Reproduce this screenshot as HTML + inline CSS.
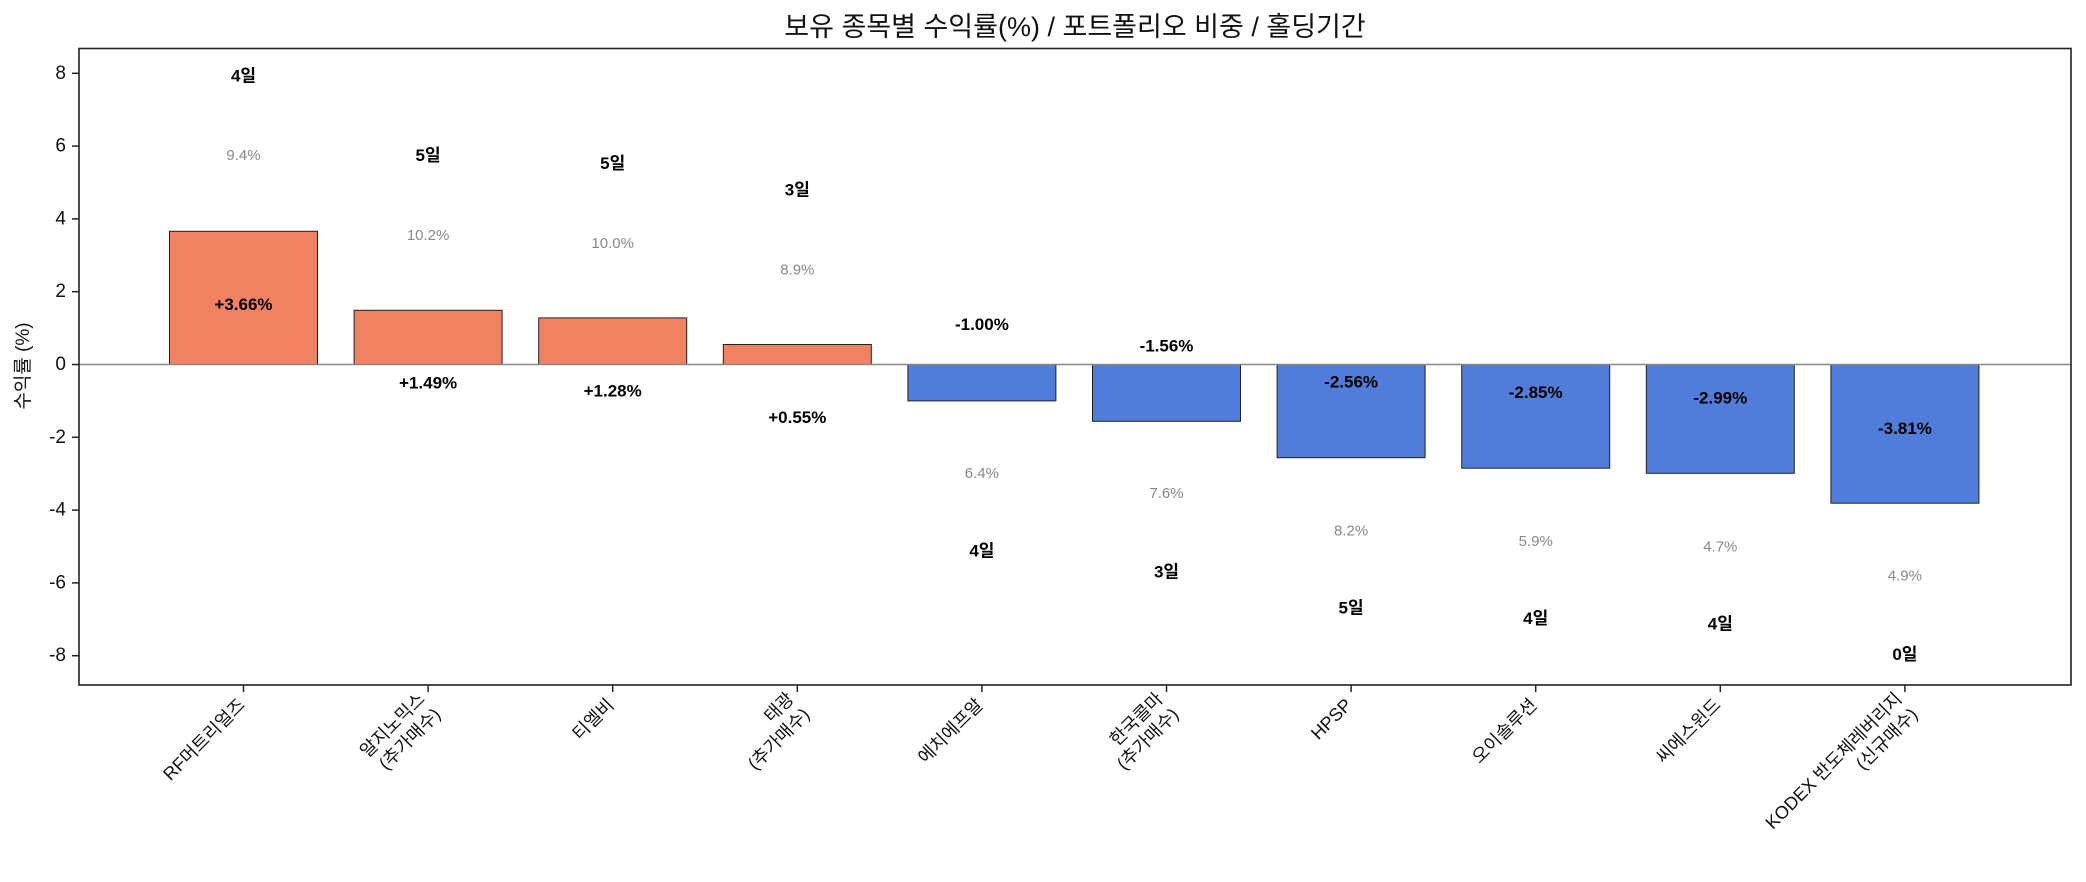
<!DOCTYPE html>
<html><head><meta charset="utf-8"><style>
html,body{margin:0;padding:0;background:#fff;}
svg{display:block;font-family:"Liberation Sans","Noto Sans CJK KR",sans-serif;}
</style></head><body>
<svg width="2086" height="882" viewBox="0 0 2086 882" xmlns="http://www.w3.org/2000/svg">
<rect width="2086" height="882" fill="#fff"/>
<text x="1075" y="36" font-size="27" text-anchor="middle" fill="#111">보유 종목별 수익률(%) / 포트폴리오 비중 / 홀딩기간</text>
<g fill="#f08262" stroke="#222" stroke-width="1">
<rect x="169.5" y="231.3" width="148" height="133.2"/>
<rect x="354.1" y="310.3" width="148" height="54.2"/>
<rect x="538.7" y="317.9" width="148" height="46.6"/>
<rect x="723.3" y="344.5" width="148" height="20"/>
</g>
<g fill="#4f7dd9" stroke="#222" stroke-width="1">
<rect x="907.9" y="364.5" width="148" height="36.4"/>
<rect x="1092.5" y="364.5" width="148" height="56.8"/>
<rect x="1277.1" y="364.5" width="148" height="93.2"/>
<rect x="1461.7" y="364.5" width="148" height="103.7"/>
<rect x="1646.3" y="364.5" width="148" height="108.8"/>
<rect x="1830.9" y="364.5" width="148" height="138.7"/>
</g>
<line x1="79" y1="364.5" x2="2071" y2="364.5" stroke="#888" stroke-width="1.5"/>
<rect x="79" y="48.5" width="1992" height="636.5" fill="none" stroke="#222" stroke-width="1.6"/>
<g stroke="#222" stroke-width="1.5">
<line x1="72" y1="73.3" x2="79" y2="73.3"/><line x1="72" y1="146.1" x2="79" y2="146.1"/><line x1="72" y1="218.9" x2="79" y2="218.9"/><line x1="72" y1="291.7" x2="79" y2="291.7"/><line x1="72" y1="364.5" x2="79" y2="364.5"/><line x1="72" y1="437.3" x2="79" y2="437.3"/><line x1="72" y1="510.1" x2="79" y2="510.1"/><line x1="72" y1="582.9" x2="79" y2="582.9"/><line x1="72" y1="655.7" x2="79" y2="655.7"/>
<line x1="243.5" y1="685" x2="243.5" y2="692"/><line x1="428.1" y1="685" x2="428.1" y2="692"/><line x1="612.7" y1="685" x2="612.7" y2="692"/><line x1="797.3" y1="685" x2="797.3" y2="692"/><line x1="981.9" y1="685" x2="981.9" y2="692"/><line x1="1166.5" y1="685" x2="1166.5" y2="692"/><line x1="1351.1" y1="685" x2="1351.1" y2="692"/><line x1="1535.7" y1="685" x2="1535.7" y2="692"/><line x1="1720.3" y1="685" x2="1720.3" y2="692"/><line x1="1904.9" y1="685" x2="1904.9" y2="692"/>
</g>
<g font-size="19" fill="#111" text-anchor="end" dominant-baseline="central">
<text x="66" y="73.3">8</text><text x="66" y="146.1">6</text><text x="66" y="218.9">4</text><text x="66" y="291.7">2</text><text x="66" y="364.5">0</text><text x="66" y="437.3">-2</text><text x="66" y="510.1">-4</text><text x="66" y="582.9">-6</text><text x="66" y="655.7">-8</text>
</g>
<text transform="translate(29,366) rotate(-90)" font-size="19" text-anchor="middle" fill="#111">수익률 (%)</text>
<g font-size="17" font-weight="bold" fill="#000" text-anchor="middle" dominant-baseline="central">
<text x="243.5" y="304.7">+3.66%</text><text x="428.1" y="383.2">+1.49%</text><text x="612.7" y="391.1">+1.28%</text><text x="797.3" y="417.7">+0.55%</text><text x="981.9" y="324.6">-1.00%</text><text x="1166.5" y="345.9">-1.56%</text><text x="1351.1" y="381.8">-2.56%</text><text x="1535.7" y="392.5">-2.85%</text><text x="1720.3" y="397.8">-2.99%</text><text x="1904.9" y="428.4">-3.81%</text>
<text x="243.5" y="75.8">4일</text><text x="428.1" y="155.7">5일</text><text x="612.7" y="163.6">5일</text><text x="797.3" y="190.2">3일</text><text x="981.9" y="550.8">4일</text><text x="1166.5" y="572.1">3일</text><text x="1351.1" y="608">5일</text><text x="1535.7" y="618.6">4일</text><text x="1720.3" y="624">4일</text><text x="1904.9" y="654.6">0일</text>
</g>
<g font-size="15" fill="#888" text-anchor="middle" dominant-baseline="central">
<text x="243.5" y="155.7">9.4%</text><text x="428.1" y="235.5">10.2%</text><text x="612.7" y="243.5">10.0%</text><text x="797.3" y="270.1">8.9%</text><text x="981.9" y="473.6">6.4%</text><text x="1166.5" y="493.6">7.6%</text><text x="1351.1" y="530.8">8.2%</text><text x="1535.7" y="541.5">5.9%</text><text x="1720.3" y="546.8">4.7%</text><text x="1904.9" y="576.1">4.9%</text>
</g>
<g font-size="18" fill="#111" text-anchor="end">
<text transform="translate(246,706) rotate(-45)">RF머트리얼즈</text>
<g transform="translate(426,700) rotate(-45)"><text x="0" y="0">알지노믹스</text><text x="0" y="22">(추가매수)</text></g>
<text transform="translate(615,706) rotate(-45)">티엘비</text>
<g transform="translate(795,700) rotate(-45)"><text x="0" y="0">태광</text><text x="0" y="22">(추가매수)</text></g>
<text transform="translate(984,706) rotate(-45)">에치에프알</text>
<g transform="translate(1164,700) rotate(-45)"><text x="0" y="0">한국콜마</text><text x="0" y="22">(추가매수)</text></g>
<text transform="translate(1353,706) rotate(-45)">HPSP</text>
<text transform="translate(1538,706) rotate(-45)">오이솔루션</text>
<text transform="translate(1722,706) rotate(-45)">씨에스윈드</text>
<g transform="translate(1903,700) rotate(-45)"><text x="0" y="0">KODEX 반도체레버리지</text><text x="0" y="22">(신규매수)</text></g>
</g>
</svg>
</body></html>
